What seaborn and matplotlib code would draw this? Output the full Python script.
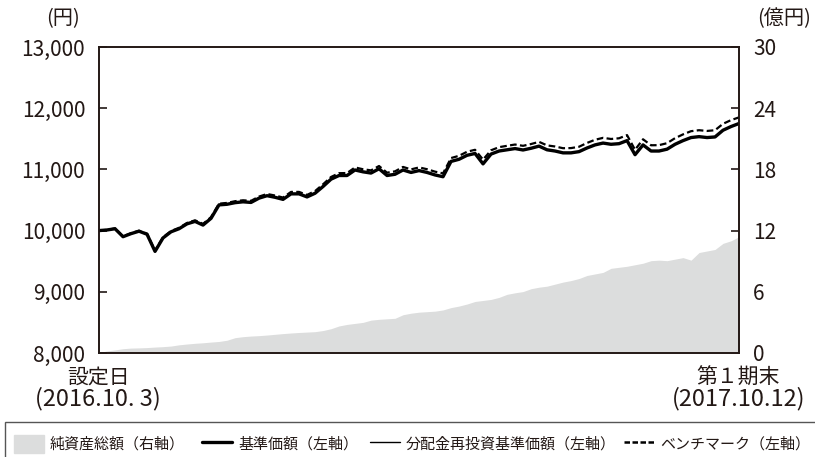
import pandas as pd
import matplotlib.pyplot as plt
import matplotlib.patches as mpatches
from matplotlib.lines import Line2D
import seaborn as sns

# ---- data (about every 3.5 days) ----
start_date = '2016-10-03'
end_date = '2017-10-12'

nav = [10000, 10010, 10030, 9900, 9950, 9990, 9940, 9660, 9880, 9980,
       10030, 10110, 10150, 10090, 10200, 10420, 10430, 10456, 10470, 10460,
       10530, 10570, 10544, 10510, 10600, 10600, 10550, 10610, 10720, 10840,
       10900, 10900, 10990, 10960, 10940, 11010, 10900, 10920, 10990, 10950,
       10980, 10950, 10909, 10880, 11130, 11165, 11230, 11260, 11090, 11250,
       11300, 11320, 11340, 11317, 11345, 11380, 11320, 11300, 11270, 11270,
       11290, 11350, 11400, 11430, 11410, 11420, 11470, 11240, 11400, 11300,
       11300, 11330, 11410, 11470, 11520, 11535, 11520, 11530, 11640, 11700,
       11750]

# no distribution in the period -> reinvested NAV equals NAV
nav_reinvested = list(nav)

benchmark = [10000, 10012, 10035, 9905, 9958, 9998, 9950, 9672, 9892, 9993,
             10045, 10125, 10168, 10110, 10220, 10440, 10452, 10480, 10495, 10486,
             10556, 10598, 10573, 10540, 10632, 10632, 10583, 10645, 10756, 10876,
             10938, 10940, 11032, 11002, 10984, 11055, 10946, 10968, 11040, 11000,
             11032, 11003, 10963, 10935, 11185, 11222, 11288, 11320, 11160, 11312,
             11363, 11385, 11406, 11385, 11414, 11450, 11392, 11374, 11346, 11348,
             11370, 11432, 11484, 11515, 11497, 11508, 11560, 11320, 11492, 11394,
             11396, 11428, 11510, 11572, 11624, 11640, 11628, 11640, 11745, 11805,
             11850]

net_assets = [0.05, 0.2, 0.3, 0.42, 0.48, 0.5, 0.53, 0.58, 0.62, 0.68,
              0.8, 0.88, 0.95, 1.0, 1.07, 1.13, 1.25, 1.5, 1.6, 1.66,
              1.7, 1.76, 1.83, 1.9, 1.96, 2.01, 2.05, 2.09, 2.2, 2.38,
              2.65, 2.8, 2.9, 3.0, 3.22, 3.3, 3.35, 3.4, 3.75, 3.9,
              4.0, 4.05, 4.1, 4.22, 4.45, 4.6, 4.8, 5.05, 5.15, 5.25,
              5.45, 5.75, 5.9, 6.02, 6.3, 6.45, 6.55, 6.75, 6.95, 7.1,
              7.3, 7.6, 7.75, 7.9, 8.3, 8.4, 8.5, 8.65, 8.8, 9.05,
              9.1, 9.05, 9.2, 9.35, 9.1, 9.85, 10.0, 10.15, 10.75, 11.0,
              11.4]

left_ticks = [8000, 9000, 10000, 11000, 12000, 13000]
right_ticks = [0, 6, 12, 18, 24, 30]

dates = pd.date_range(start_date, end_date, periods=len(nav))
df = pd.DataFrame({'date': dates, 'nav': nav, 'reinv': nav_reinvested,
                   'bm': benchmark, 'assets': net_assets})

sns.set_style('white')
plt.rcParams['font.family'] = ['Noto Sans CJK JP', 'DejaVu Sans']

fig = plt.figure(figsize=(8.15, 4.57), dpi=100)
ax = fig.add_axes([0.1215, 0.2276, 0.7853, 0.6696])
ax2 = ax.twinx()

# net assets area on the right axis, behind the lines
area_color = '#dcdddd'
ax2.fill_between(df['date'], 0, df['assets'], color=area_color, lw=0)
ax2.set_ylim(0, 30)
ax2.set_yticks(right_ticks)
ax2.set_yticklabels([str(t) for t in right_ticks])

ax.set_zorder(ax2.get_zorder() + 1)
ax.patch.set_visible(False)

sns.lineplot(data=df, x='date', y='bm', ax=ax, color='black', lw=1.6,
             linestyle=(0, (3, 1.5)))
sns.lineplot(data=df, x='date', y='reinv', ax=ax, color='black', lw=1.0)
sns.lineplot(data=df, x='date', y='nav', ax=ax, color='black', lw=2.4)

ax.set_xlim(dates[0], dates[-1])
ax.set_ylim(8000, 13000)
ax.set_yticks(left_ticks)
ax.set_yticklabels([f'{t:,}' for t in left_ticks])
ax.set_xticks([])
ax.set_xlabel('')
ax.set_ylabel('')
ax2.set_xticks([])

txt = '#231815'
for a in (ax, ax2):
    for s in a.spines.values():
        s.set_color(txt)
        s.set_linewidth(1.2)
ax.tick_params(axis='y', direction='in', length=6, width=1.2, labelsize=15,
               colors=txt, pad=10)
ax2.tick_params(axis='y', direction='in', length=6, width=1.2, labelsize=15,
                colors=txt, pad=10)

fig.text(63 / 815, 1 - 19 / 457, '(円)', ha='center', va='center', fontsize=14.5, color=txt)
fig.text(784 / 815, 1 - 19 / 457, '(億円)', ha='center', va='center', fontsize=14.5, color=txt)
fig.text(99 / 815, 1 - 378 / 457, '設定日', ha='center', va='center', fontsize=15, color=txt)
fig.text(98 / 815, 1 - 399 / 457, '(2016.10. 3)', ha='center', va='center', fontsize=17, color=txt)
fig.text(738 / 815, 1 - 378 / 457, '第１期末', ha='center', va='center', fontsize=15, color=txt)
fig.text(739 / 815, 1 - 399 / 457, '(2017.10.12)', ha='center', va='center', fontsize=17, color=txt)

# legend frame spanning the bottom
fig.patches.append(mpatches.Rectangle((5 / 815, -0.02), 830 / 815, (457 - 422) / 457 + 0.02,
                                      transform=fig.transFigure, fill=False,
                                      edgecolor='#555555', lw=1.0))
handles = [
    mpatches.Patch(color=area_color),
    Line2D([], [], color='black', lw=2.4),
    Line2D([], [], color='black', lw=1.0),
    Line2D([], [], color='black', lw=1.8, linestyle=(0, (2.2, 1))),
]
labels = ['純資産総額（右軸）', '基準価額（左軸）', '分配金再投資基準価額（左軸）', 'ベンチマーク（左軸）']
entry_x = [14, 202, 370, 624]  # left edge of each legend entry, px
for h, lab, x0 in zip(handles, labels, entry_x):
    fig.legend([h], [lab], loc='center left',
               bbox_to_anchor=(x0 / 815, 1 - 444 / 457), frameon=False,
               fontsize=10.8, handlelength=2.0, handleheight=1.5, handletextpad=0.4,
               borderaxespad=0, borderpad=0, labelcolor=txt)

fig.savefig('out.png', dpi=100)
